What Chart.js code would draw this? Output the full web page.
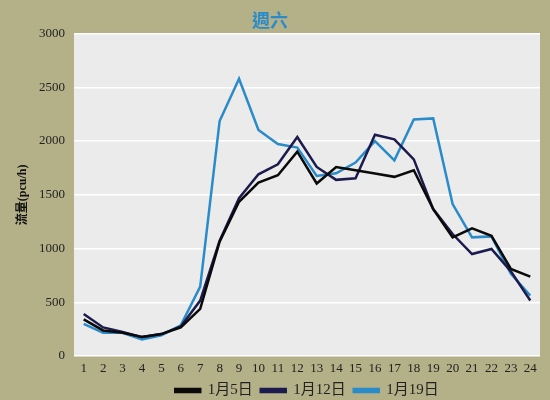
<!DOCTYPE html>
<html>
<head>
<meta charset="utf-8">
<script src="https://cdn.jsdelivr.net/npm/chart.js@4"></script>
<style>
  html, body { margin: 0; padding: 0; background: #b4b189; }
  #wrap { width: 550px; height: 400px; }
</style>
</head>
<body>
<div id="wrap"><canvas id="c" width="550" height="400"></canvas></div>
<script>
// 時段 1..24
const hours = Array.from({ length: 24 }, (_, i) => String(i + 1));

const jan5 = [340, 238, 216, 176, 204, 266, 439, 1064, 1435, 1614, 1682, 1902,
              1605, 1759, 1728, 1698, 1667, 1728, 1367, 1104, 1187, 1119, 810, 739];
const jan12 = [390, 266, 223, 176, 204, 275, 516, 1073, 1469, 1691, 1784, 2038,
               1759, 1639, 1654, 2059, 2016, 1830, 1367, 1135, 949, 996, 788, 516];
const jan19 = [300, 216, 216, 155, 192, 285, 646, 2186, 2579, 2103, 1973, 1939,
               1676, 1700, 1800, 2000, 1821, 2201, 2211, 1413, 1104, 1113, 764, 563];

const SERIF = "'Liberation Serif', 'Noto Sans CJK TC', serif";

// fondo gris del área de trazado
const plotBg = {
  id: "plotBg",
  beforeDraw(chart) {
    const { ctx, chartArea: a } = chart;
    ctx.save();
    ctx.fillStyle = "#ebebeb";
    ctx.fillRect(a.left, a.top, a.right - a.left, a.bottom - a.top);
    ctx.restore();
  },
};

function line(label, data, color) {
  return {
    label,
    data,
    borderColor: color,
    backgroundColor: color,
    borderWidth: 2.5,
    pointRadius: 0,
    tension: 0,
    fill: false,
  };
}

new Chart(document.getElementById("c"), {
  type: "line",
  data: {
    labels: hours,
    datasets: [
      line("1月5日", jan5, "#0a0a0a"),
      line("1月12日", jan12, "#1b1b4d"),
      line("1月19日", jan19, "#2a8bc9"),
    ],
  },
  options: {
    responsive: false,
    animation: false,
    layout: { padding: { left: 0, right: 10, top: 0, bottom: -8 } },
    plugins: {
      title: {
        display: true,
        text: "週六",
        color: "#2a8bc9",
        font: { family: "'Noto Sans CJK TC', sans-serif", size: 18, weight: "bold" },
        padding: { top: 9, bottom: 3 },
      },
      legend: {
        position: "bottom",
        fullSize: false, // centrada bajo el área de trazado
        labels: {
          boxWidth: 25,
          boxHeight: 3,
          color: "#222",
          padding: 8,
          font: { family: SERIF, size: 15 },
        },
      },
      tooltip: { enabled: false },
    },
    scales: {
      x: {
        offset: true,
        grid: { display: false, drawTicks: false },
        border: { display: false },
        ticks: { color: "#222", font: { family: SERIF, size: 13 }, padding: 5, maxRotation: 0, autoSkip: false },
        afterFit(scale) { scale.height = 19; },
      },
      y: {
        min: 0,
        max: 3000,
        ticks: {
          stepSize: 500,
          color: "#222",
          font: { family: SERIF, size: 13 },
          padding: 9,
          callback: v => String(v),
        },
        grid: { color: "#ffffff", lineWidth: 1.5, drawTicks: false },
        border: { display: false },
        title: {
          display: true,
          text: "流量(pcu/h)",
          color: "#111",
          font: { family: SERIF, size: 12, weight: "bold" },
          padding: { top: 16, bottom: 0 },
        },
        afterFit(scale) { scale.width = 74; },
      },
    },
  },
  plugins: [plotBg],
});
</script>
</body>
</html>
